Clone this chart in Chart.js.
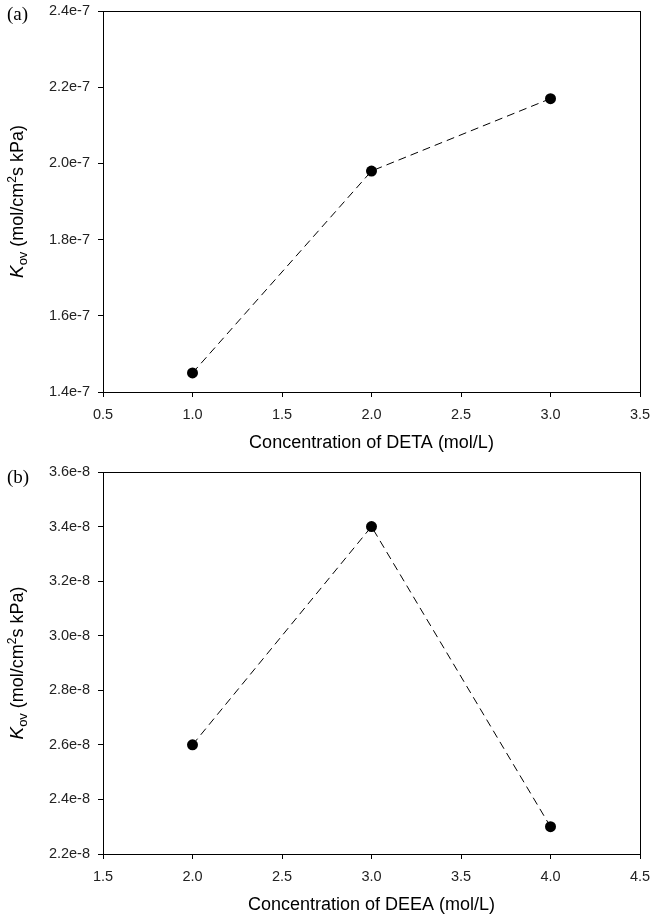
<!DOCTYPE html>
<html><head><meta charset="utf-8">
<script src="https://cdn.jsdelivr.net/npm/chart.js@4.4.0/dist/chart.umd.min.js"></script>
<style>
html,body{margin:0;padding:0;background:#fff;}
canvas{display:block;}
</style></head>
<body>
<canvas id="ca" width="652" height="455"></canvas>
<canvas id="cb" width="652" height="465"></canvas>
<script>
// Panel (a)
const detaConc = [1.0, 2.0, 3.0];
const detaKov = [1.45e-7, 1.98e-7, 2.17e-7];
// Panel (b)
const deeaConc = [2.0, 3.0, 4.0];
const deeaKov = [2.6e-8, 3.4e-8, 2.3e-8];

const FONT = "'Liberation Sans', Arial, sans-serif";

function makePlugin(panelLabel, xTitle, labelY) {
  return {
    id: 'deco',
    afterDraw(chart) {
      const ctx = chart.ctx, a = chart.chartArea;
      ctx.save();
      // frame
      ctx.strokeStyle = '#000'; ctx.lineWidth = 1;
      ctx.strokeRect(Math.round(a.left) + 0.5, Math.round(a.top) + 0.5, Math.round(a.right - a.left), Math.round(a.bottom - a.top));
      // panel label
      ctx.fillStyle = '#000';
      ctx.font = "19px 'Liberation Serif', 'DejaVu Serif', serif";
      ctx.textBaseline = 'middle'; ctx.textAlign = 'left';
      ctx.fillText(panelLabel, 7, labelY);
      // x title
      ctx.font = "18px " + FONT;
      ctx.textAlign = 'center';
      ctx.fillText(xTitle, (a.left + a.right) / 2, a.bottom + 51);
      // y title with sub/superscripts
      const parts = [
        {t: 'K', f: "italic 19px " + FONT, dy: 0},
        {t: 'ov', f: "13px " + FONT, dy: 4},
        {t: ' (mol/cm', f: "18px " + FONT, dy: 0},
        {t: '2', f: "12px " + FONT, dy: -7},
        {t: 's kPa)', f: "18px " + FONT, dy: 0}
      ];
      let total = 0;
      parts.forEach(p => { ctx.font = p.f; p.w = ctx.measureText(p.t).width; total += p.w; });
      const cy = (a.top + a.bottom) / 2;
      ctx.translate(17, cy);
      ctx.rotate(-Math.PI / 2);
      ctx.textAlign = 'left'; ctx.textBaseline = 'alphabetic';
      let x = -total / 2;
      parts.forEach(p => { ctx.font = p.f; ctx.fillText(p.t, x, 6 + p.dy); x += p.w; });
      ctx.restore();
    }
  };
}

function makeChart(id, xs, ys, xmin, xmax, ymin, ymax, ystep, padTop, xAxisH, label, xTitle, labelY) {
  return new Chart(document.getElementById(id), {
    type: 'scatter',
    data: {
      datasets: [{
        data: xs.map((x, i) => ({x: x, y: ys[i]})),
        showLine: true,
        borderColor: '#000',
        borderWidth: 1,
        borderDash: [8, 5],
        pointRadius: 5.5,
        pointHoverRadius: 5.5,
        pointBackgroundColor: '#000',
        pointBorderColor: '#000',
        pointBorderWidth: 0
      }]
    },
    options: {
      responsive: false,
      animation: false,
      devicePixelRatio: 1,
      layout: {padding: {left: 0, top: padTop, right: 12, bottom: 0}},
      plugins: {legend: {display: false}, tooltip: {enabled: false}},
      scales: {
        x: {
          type: 'linear', min: xmin, max: xmax,
          ticks: {stepSize: 0.5, color: '#222', font: {family: FONT, size: 14.5}, padding: 9,
            callback: v => v.toFixed(1)},
          grid: {drawOnChartArea: false, drawTicks: true, tickLength: 5, tickColor: '#000'},
          border: {display: true, color: '#000', width: 1},
          afterFit: s => { s.height = xAxisH; s.paddingLeft = 0; s.paddingRight = 0; }
        },
        y: {
          type: 'linear', min: ymin, max: ymax,
          ticks: {stepSize: ystep, color: '#222', font: {family: FONT, size: 14.5}, padding: 8,
            callback: v => Number(v).toExponential(1)},
          grid: {drawOnChartArea: false, drawTicks: true, tickLength: 5, tickColor: '#000'},
          border: {display: true, color: '#000', width: 1},
          afterFit: s => { s.width = 103; s.paddingTop = 0; s.paddingBottom = 0; }
        }
      }
    },
    plugins: [makePlugin(label, xTitle, labelY)]
  });
}

makeChart('ca', detaConc, detaKov, 0.5, 3.5, 1.4e-7, 2.4e-7, 0.2e-7, 11, 63, '(a)', 'Concentration of DETA (mol/L)', 15);
makeChart('cb', deeaConc, deeaKov, 1.5, 4.5, 2.2e-8, 3.6e-8, 0.2e-8, 17, 66, '(b)', 'Concentration of DEEA (mol/L)', 23);
</script>
</body></html>
